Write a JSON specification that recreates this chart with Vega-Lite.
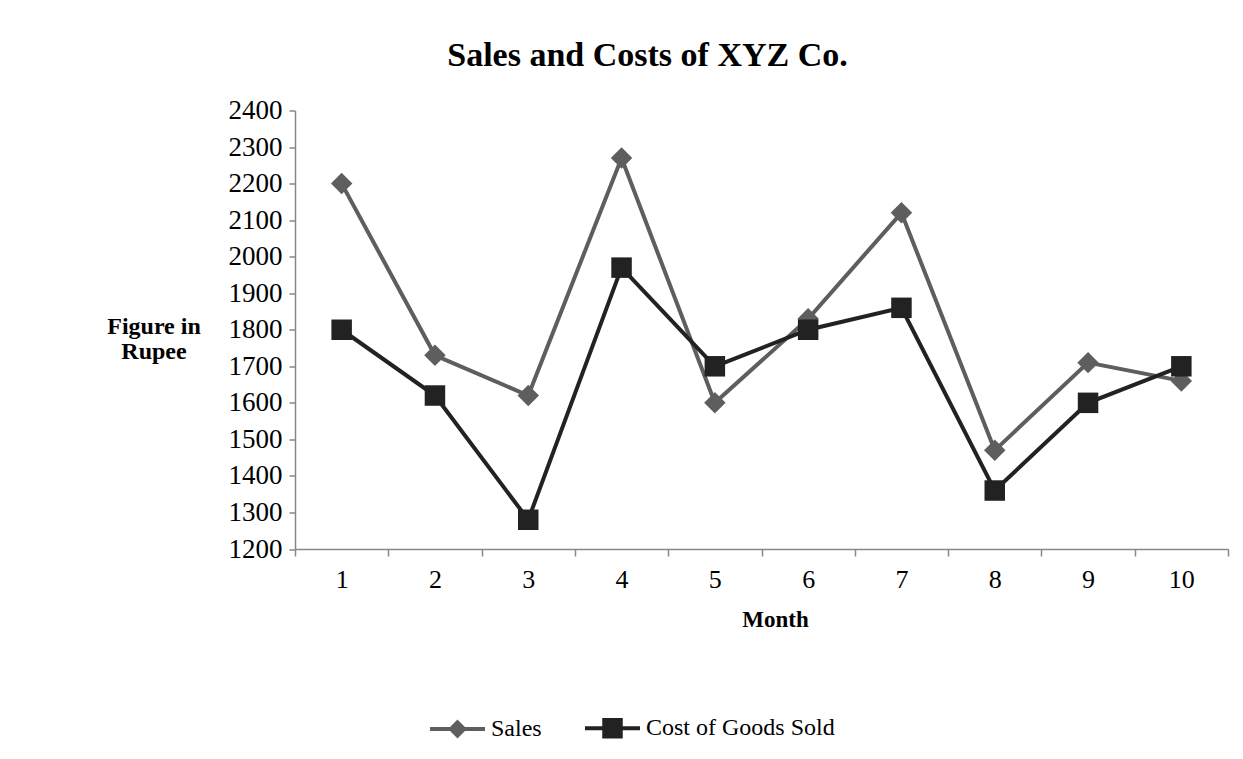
{
  "$schema": "https://vega.github.io/schema/vega-lite/v6.json",
  "width": 933,
  "height": 438.5,
  "autosize": {"type": "none"},
  "padding": {"left": 295, "top": 110.5, "right": 15, "bottom": 210},
  "background": "#ffffff",
  "title": {
    "text": "Sales and Costs of XYZ Co.",
    "font": "Liberation Serif",
    "fontSize": 34,
    "fontWeight": "bold",
    "color": "#000000",
    "anchor": "middle",
    "frame": "group",
    "dx": -114,
    "baseline": "alphabetic",
    "offset": -3
  },
  "data": {
    "values": [
      {"month": 1, "series": "Sales", "value": 2200},
      {"month": 2, "series": "Sales", "value": 1730},
      {"month": 3, "series": "Sales", "value": 1620},
      {"month": 4, "series": "Sales", "value": 2270},
      {"month": 5, "series": "Sales", "value": 1600},
      {"month": 6, "series": "Sales", "value": 1830},
      {"month": 7, "series": "Sales", "value": 2120},
      {"month": 8, "series": "Sales", "value": 1470},
      {"month": 9, "series": "Sales", "value": 1710},
      {"month": 10, "series": "Sales", "value": 1660},
      {"month": 1, "series": "Cost of Goods Sold", "value": 1800},
      {"month": 2, "series": "Cost of Goods Sold", "value": 1620},
      {"month": 3, "series": "Cost of Goods Sold", "value": 1280},
      {"month": 4, "series": "Cost of Goods Sold", "value": 1970},
      {"month": 5, "series": "Cost of Goods Sold", "value": 1700},
      {"month": 6, "series": "Cost of Goods Sold", "value": 1800},
      {"month": 7, "series": "Cost of Goods Sold", "value": 1860},
      {"month": 8, "series": "Cost of Goods Sold", "value": 1360},
      {"month": 9, "series": "Cost of Goods Sold", "value": 1600},
      {"month": 10, "series": "Cost of Goods Sold", "value": 1700}
    ]
  },
  "encoding": {
    "x": {
      "field": "month",
      "type": "quantitative",
      "scale": {"domain": [0.5, 10.5], "nice": false, "zero": false},
      "axis": {
        "values": [0.5, 1.5, 2.5, 3.5, 4.5, 5.5, 6.5, 7.5, 8.5, 9.5, 10.5],
        "labelExpr": "datum.value < 10 ? format(datum.value + 0.5, 'd') : ''",
        "labelOffset": 46.65,
        "grid": false,
        "tickSize": 7,
        "labelPadding": 10,
        "labelFont": "Liberation Serif",
        "labelFontSize": 26,
        "labelColor": "#000000",
        "labelFlush": false,
        "labelOverlap": false,
        "labelBound": false,
        "domainColor": "#888888",
        "tickColor": "#888888",
        "domainWidth": 1.5,
        "tickWidth": 1.5,
        "title": "Month",
        "titleFont": "Liberation Serif",
        "titleFontWeight": "bold",
        "titleFontSize": 23,
        "titleColor": "#000000",
        "titleX": 480,
        "titleY": 77.7,
        "titleBaseline": "alphabetic",
        "titleAlign": "center"
      }
    },
    "y": {
      "field": "value",
      "type": "quantitative",
      "scale": {"domain": [1200, 2400], "nice": false, "zero": false},
      "axis": {
        "values": [1200, 1300, 1400, 1500, 1600, 1700, 1800, 1900, 2000, 2100, 2200, 2300, 2400],
        "format": "d",
        "grid": false,
        "tickSize": 6,
        "labelPadding": 7,
        "labelFont": "Liberation Serif",
        "labelFontSize": 27,
        "labelColor": "#000000",
        "labelFlush": false,
        "labelOverlap": false,
        "labelBound": false,
        "domainColor": "#888888",
        "tickColor": "#888888",
        "domainWidth": 1.5,
        "tickWidth": 1.5,
        "title": ["Figure in", "Rupee"],
        "titleFont": "Liberation Serif",
        "titleFontWeight": "bold",
        "titleFontSize": 24,
        "titleLineHeight": 25,
        "titleColor": "#000000",
        "titleAngle": 0,
        "titleAlign": "center",
        "titleBaseline": "alphabetic",
        "titleX": -141.5,
        "titleY": 222.8
      }
    },
    "color": {
      "field": "series",
      "type": "nominal",
      "scale": {"domain": ["Sales", "Cost of Goods Sold"], "range": ["#5e5e5e", "#222222"]},
      "legend": {
        "title": null,
        "orient": "none",
        "legendX": 133,
        "legendY": 588,
        "direction": "horizontal",
        "symbolSize": 3025,
        "symbolStrokeWidth": 4,
        "labelFont": "Liberation Serif",
        "labelFontSize": 24,
        "labelColor": "#000000",
        "labelOffset": 4,
        "columnPadding": 35,
        "labelLimit": 400,
        "encode": {
          "symbols": {
            "update": {
              "shape": {"signal": "datum.value === 'Sales' ? 'M-1,0H1M0,-0.24L0.24,0L0,0.24L-0.24,0Z' : 'M-1,0H1M-0.3,-0.3H0.3V0.3H-0.3Z'"},
              "fill": {"signal": "datum.value === 'Sales' ? '#5e5e5e' : '#222222'"},
              "stroke": {"signal": "datum.value === 'Sales' ? '#5e5e5e' : '#222222'"},
              "strokeWidth": {"value": 4},
              "opacity": {"value": 1},
              "size": {"value": 3025}
            }
          }
        }
      }
    }
  },
  "layer": [
    {
      "mark": {"type": "line", "strokeWidth": 4}
    },
    {
      "transform": [{"filter": "datum.series === 'Sales'"}],
      "mark": {"type": "point", "shape": "diamond", "filled": true, "size": 460, "opacity": 1}
    },
    {
      "transform": [{"filter": "datum.series === 'Cost of Goods Sold'"}],
      "mark": {"type": "point", "shape": "square", "filled": true, "size": 420, "opacity": 1}
    }
  ],
  "config": {
    "view": {"stroke": null}
  }
}
